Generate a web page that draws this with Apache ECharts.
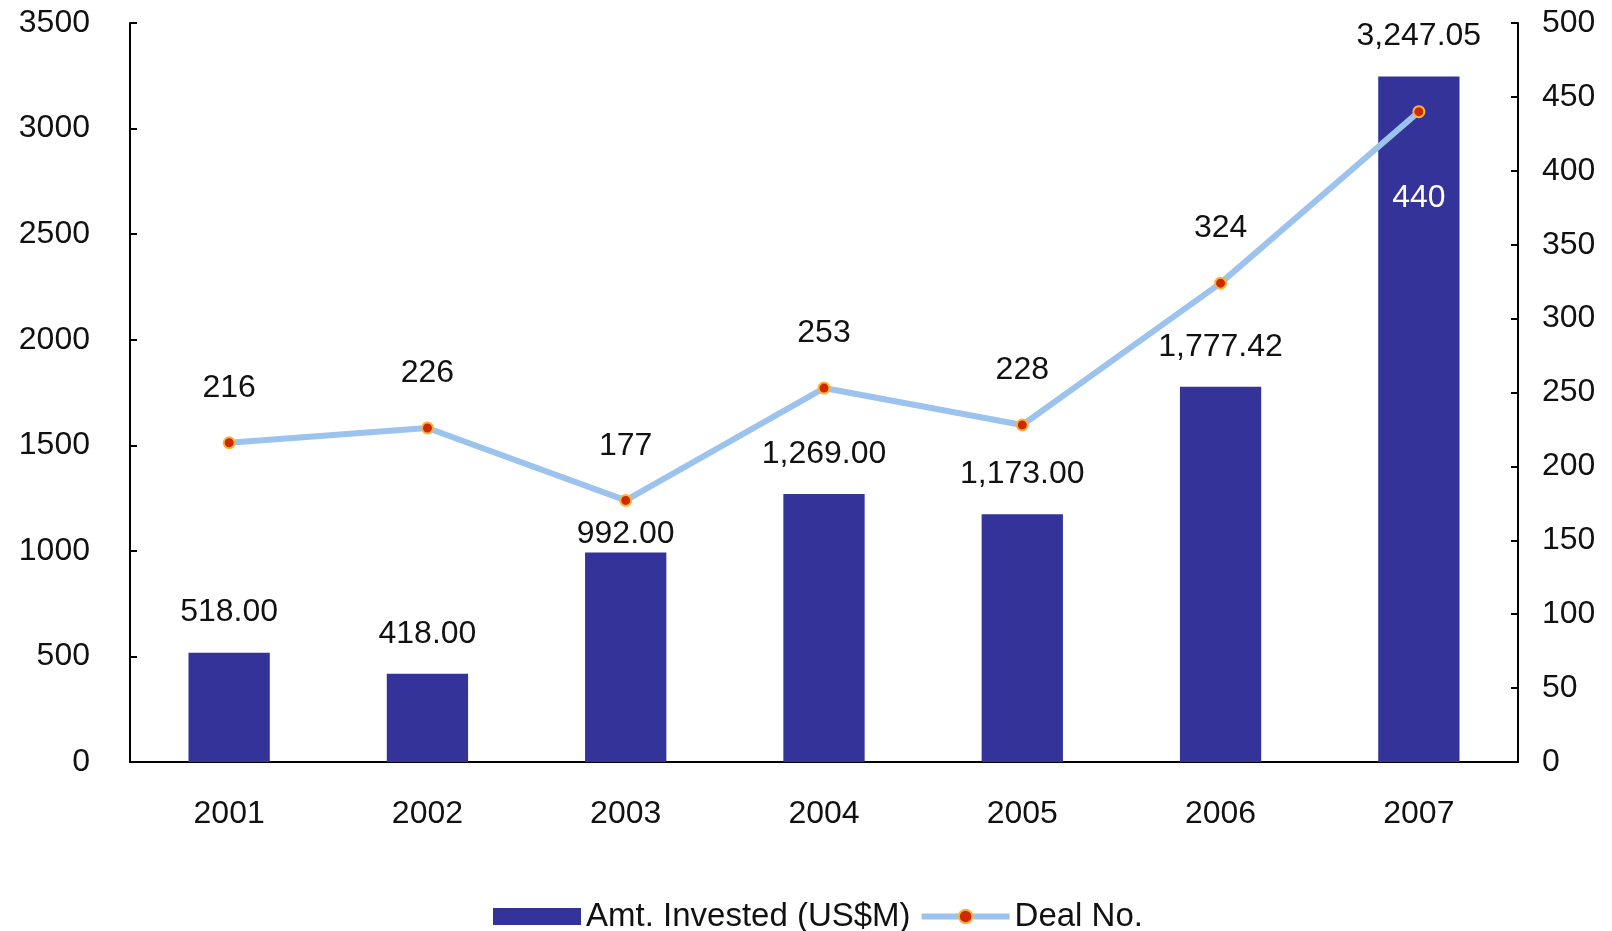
<!DOCTYPE html>
<html>
<head>
<meta charset="utf-8">
<script src="https://cdn.jsdelivr.net/npm/echarts@6/dist/echarts.min.js"></script>
<style>
html,body{margin:0;padding:0;background:#fff;}
#c{width:1612px;height:931px;}
</style>
</head>
<body>
<div id="c"></div>
<script>
const categories = ['2001','2002','2003','2004','2005','2006','2007'];
const amtInvested = [518.00, 418.00, 992.00, 1269.00, 1173.00, 1777.42, 3247.05];
const dealNo = [216, 226, 177, 253, 228, 324, 440];
const leftTicks = {min: 0, max: 3500, interval: 500};
const rightTicks = {min: 0, max: 500, interval: 50};

function fmt2(v){
  const s = v.toFixed(2);
  const parts = s.split('.');
  parts[0] = parts[0].replace(/\B(?=(\d{3})+(?!\d))/g, ',');
  return parts.join('.');
}

const FONT = '"Liberation Sans", Arial, sans-serif';
const FS = 32;

const chart = echarts.init(document.getElementById('c'), null, {renderer:'canvas'});
const barData = amtInvested.map((v,i)=>{
  const d = {value: v};
  if (i === 2) d.label = {distance: 2};
  return d;
});
const lineData = dealNo.map((v,i)=>{
  const d = {value: v};
  if (i === dealNo.length - 1) d.label = {position: 'bottom', distance: 64, color: '#ffffff'};
  return d;
});

chart.setOption({
  animation: false,
  backgroundColor: '#ffffff',
  textStyle: {fontFamily: FONT},
  grid: {left: 130, right: 94, top: 23, bottom: 169, containLabel: false},
  legend: {
    left: 488, top: 895,
    itemWidth: 88, itemHeight: 17, itemGap: 8,
    textStyle: {fontSize: 33, color: '#111', fontFamily: FONT},
    data: [
      {name: 'Amt. Invested (US$M)', icon: 'rect'},
      {name: 'Deal No.', lineStyle: {width: 6, color: '#9CC3EE'}}
    ]
  },
  xAxis: {
    type: 'category',
    data: categories,
    axisLine: {lineStyle: {color: '#000', width: 2}},
    axisTick: {inside: true, length: 8, alignWithLabel: false, lineStyle: {color: '#000', width: 2}},
    axisLabel: {fontSize: FS, color: '#111', margin: 36, fontFamily: FONT},
    splitLine: {show: false}
  },
  yAxis: [
    {
      type: 'value', min: leftTicks.min, max: leftTicks.max, interval: leftTicks.interval,
      axisLine: {show: true, lineStyle: {color: '#000', width: 2}},
      axisTick: {show: true, inside: true, length: 7, lineStyle: {color: '#000', width: 2}},
      axisLabel: {fontSize: FS, color: '#111', margin: 40, fontFamily: FONT, formatter: v => String(v)},
      splitLine: {show: false}
    },
    {
      type: 'value', min: rightTicks.min, max: rightTicks.max, interval: rightTicks.interval,
      position: 'right',
      axisLine: {show: true, lineStyle: {color: '#000', width: 2}},
      axisTick: {show: true, inside: true, length: 7, lineStyle: {color: '#000', width: 2}},
      axisLabel: {fontSize: FS, color: '#111', margin: 24, fontFamily: FONT, formatter: v => String(v)},
      splitLine: {show: false}
    }
  ],
  series: [
    {
      name: 'Amt. Invested (US$M)',
      type: 'bar',
      yAxisIndex: 0,
      barWidth: '41%',
      itemStyle: {color: '#333399'},
      label: {
        show: true, position: 'top', distance: 24,
        fontSize: FS, color: '#111', fontFamily: FONT,
        formatter: p => fmt2(p.value)
      },
      data: barData,
      z: 2
    },
    {
      name: 'Deal No.',
      type: 'line',
      yAxisIndex: 1,
      symbol: 'circle',
      symbolSize: 11,
      lineStyle: {color: '#9CC3EE', width: 6},
      itemStyle: {color: '#CC2A00', borderColor: '#FFB23A', borderWidth: 2},
      label: {
        show: true, position: 'top', distance: 32,
        fontSize: FS, color: '#111', fontFamily: FONT
      },
      data: lineData,
      z: 5
    }
  ]
});
</script>
</body>
</html>
